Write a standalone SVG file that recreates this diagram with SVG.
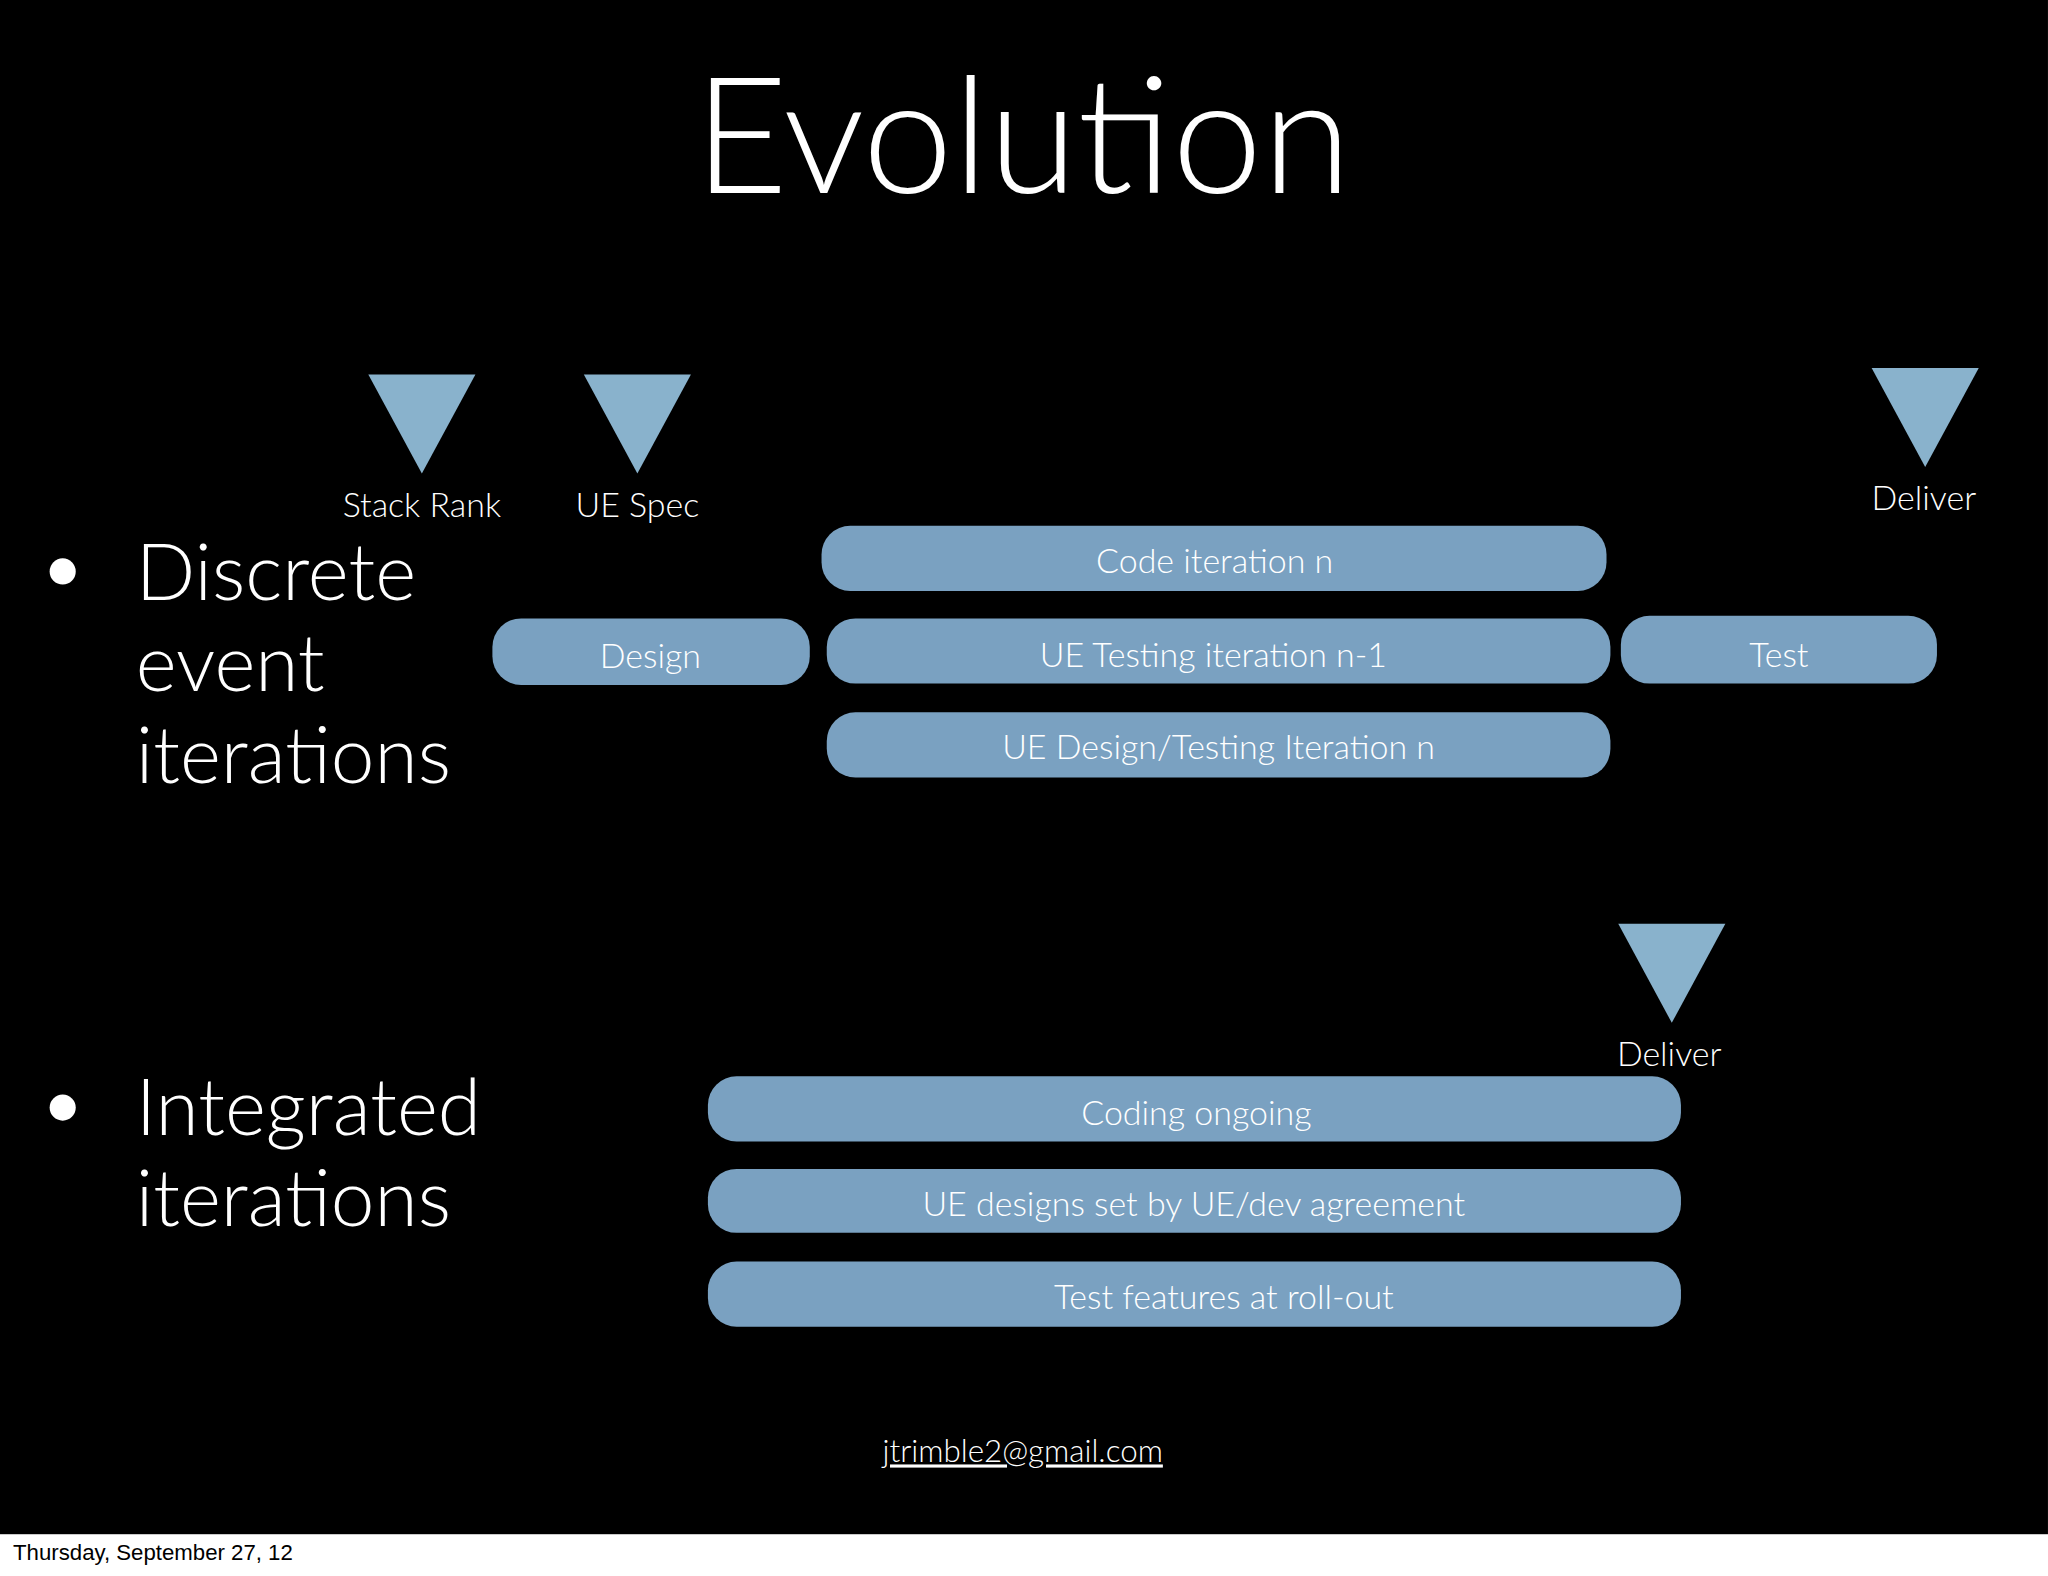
<svg xmlns="http://www.w3.org/2000/svg" width="2048" height="1576" viewBox="0 0 2048 1576">
<style>
.tri{fill:#89b2cc}
.pill{fill:#7aa1c1}
.pt{font-family:Lato,"Open Sans","Liberation Sans",sans-serif;font-weight:300;font-size:26px;fill:#fff;text-anchor:middle}
.big{font-family:Lato,"Open Sans","Liberation Sans",sans-serif;font-weight:300;font-size:60px;fill:#fff}
</style>
<rect width="2048" height="1576" fill="#fff"/>
<g transform="scale(1.3061,1.3046)">
<rect x="0" y="0" width="1568" height="1176" fill="#000"/>
<text x="783" y="148" style="font-family:Lato,'Open Sans','Liberation Sans',sans-serif;font-weight:300;font-size:124px;fill:#fff;text-anchor:middle">Evolution</text>
<g id="bullets">
<circle cx="48" cy="438" r="10" fill="#fff"/>
<text class="big" x="104" y="460">Discrete</text>
<text class="big" x="104" y="530">event</text>
<text class="big" x="104" y="600">iterations</text>
<circle cx="48" cy="849" r="10" fill="#fff"/>
<text class="big" x="104" y="870">Integrated</text>
<text class="big" x="104" y="940">iterations</text>
</g>
<g id="m-stack"><polygon class="tri" points="282,287 364,287 323,363"/><text class="pt" x="323" y="396">Stack Rank</text></g>
<g id="m-uespec"><polygon class="tri" points="447,287 529,287 488,363"/><text class="pt" x="488" y="396">UE Spec</text></g>
<g id="m-deliver1"><polygon class="tri" points="1433,282 1515,282 1474,358"/><text class="pt" x="1473" y="391">Deliver</text></g>
<g id="m-deliver2"><polygon class="tri" points="1239,708 1321,708 1280,784"/><text class="pt" x="1278" y="817">Deliver</text></g>
<g id="p1"><rect class="pill" x="629" y="403" width="601" height="50" rx="22"/><text class="pt" x="930" y="439">Code iteration n</text></g>
<g id="p2"><rect class="pill" x="377" y="474" width="243" height="51" rx="22"/><text class="pt" x="498" y="512">Design</text></g>
<g id="p3"><rect class="pill" x="633" y="474" width="600" height="50" rx="22"/><text class="pt" x="929" y="511">UE Testing iteration n-1</text></g>
<g id="p4"><rect class="pill" x="1241" y="472" width="242" height="52" rx="22"/><text class="pt" x="1362" y="511">Test</text></g>
<g id="p5"><rect class="pill" x="633" y="546" width="600" height="50" rx="22"/><text class="pt" x="933" y="582">UE Design/Testing Iteration n</text></g>
<g id="p6"><rect class="pill" x="542" y="825" width="745" height="50" rx="22"/><text class="pt" x="916" y="862">Coding ongoing</text></g>
<g id="p7"><rect class="pill" x="542" y="896" width="745" height="49" rx="22"/><text class="pt" x="914" y="932">UE designs set by UE/dev agreement</text></g>
<g id="p8"><rect class="pill" x="542" y="967" width="745" height="50" rx="22"/><text class="pt" x="937" y="1003">Test features at roll-out</text></g>
<text x="783" y="1121" style="font-family:Lato,'Open Sans','Liberation Sans',sans-serif;font-weight:300;font-size:24px;fill:#fff;text-anchor:middle;text-decoration:underline">jtrimble2@gmail.com</text>
<text x="10" y="1196" style="font-family:'Liberation Sans',sans-serif;font-size:17px;fill:#000">Thursday, September 27, 12</text>
</g>
</svg>
